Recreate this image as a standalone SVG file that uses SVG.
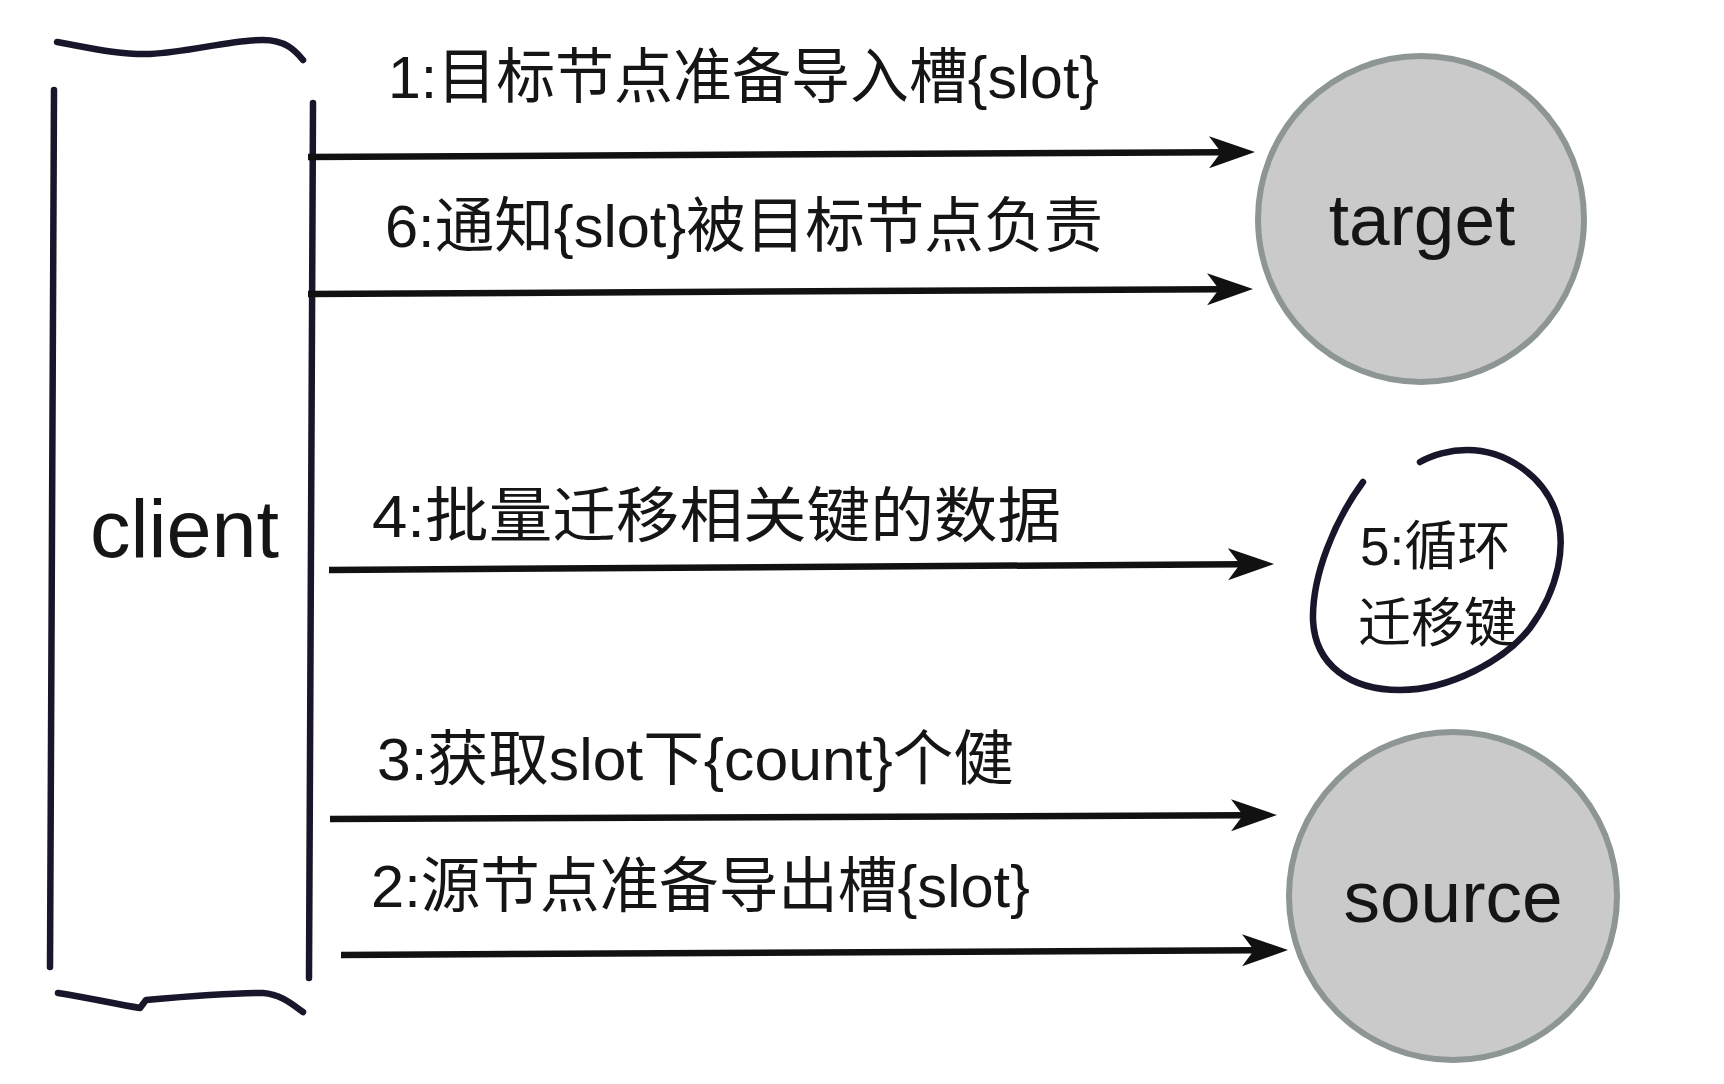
<svg xmlns="http://www.w3.org/2000/svg" width="1724" height="1084" viewBox="0 0 1724 1084">
<style>
.bg{fill:#ffffff}
.stroke{fill:none;stroke:#17162a;stroke-width:6.5;stroke-linecap:round;stroke-linejoin:round}
.conn{fill:none;stroke:#111111;stroke-width:6.5;stroke-linecap:butt}
.node{fill:#cacaca;stroke:#8d9595;stroke-width:6}
.lbl{font-family:"Liberation Sans","Noto Sans CJK SC",sans-serif;fill:#151515}
.step{font-size:60px}
.big{font-size:73px;text-anchor:middle}
.loop{font-size:53px}
</style>
<defs>
<marker id="ah" markerUnits="userSpaceOnUse" viewBox="0 0 48 36" markerWidth="48" markerHeight="36" refX="12" refY="18" orient="auto">
<path d="M46,18 L0,2 L12,18 L0,34 Z" fill="#111111"/>
</marker>
</defs>
<rect class="bg" x="0" y="0" width="1724" height="1084"/>

<g id="client">
<path class="stroke" d="M57,42 C90,48 120,55 150,54 C190,52 230,40 263,40 C285,40 295,50 303,60"/>
<path class="stroke" d="M54,90 L50,967"/>
<path class="stroke" d="M313,103 L309,978"/>
<path class="stroke" d="M58,993 C90,998 115,1004 140,1008 L146,1000 C180,997 230,993 263,993 C280,994 292,1004 303,1012"/>
<text class="lbl" x="90" y="557" font-size="81">client</text>
</g>

<g id="target">
<circle class="node" cx="1421" cy="219" r="163"/>
<text class="lbl big" x="1422" y="245">target</text>
</g>

<g id="source">
<circle class="node" cx="1453" cy="896" r="164"/>
<text class="lbl big" x="1453" y="922">source</text>
</g>

<g id="loop">
<path class="stroke" d="M1363,482 C1335,520 1312,575 1313,620 C1315,665 1350,690 1400,690 C1450,690 1505,660 1530,628 C1558,590 1568,545 1555,510 C1542,475 1505,450 1467,450 C1450,450 1432,455 1420,462"/>
<text class="lbl loop" x="1360" y="565">5:循环</text>
<text class="lbl loop" x="1358" y="642">迁移键</text>
</g>

<g id="connectors">
<path class="conn" d="M308,157 L1221,152.2" marker-end="url(#ah)"/>
<path class="conn" d="M308,294 L1219,289.2" marker-end="url(#ah)"/>
<path class="conn" d="M329,570 L1240,564.2" marker-end="url(#ah)"/>
<path class="conn" d="M330,819 L1243,815.2" marker-end="url(#ah)"/>
<path class="conn" d="M341,955 L1254,950.2" marker-end="url(#ah)"/>
</g>

<g id="labels">
<text class="lbl step" x="388" y="98" textLength="711" lengthAdjust="spacingAndGlyphs">1:目标节点准备导入槽{slot}</text>
<text class="lbl step" x="385" y="247" textLength="718" lengthAdjust="spacingAndGlyphs">6:通知{slot}被目标节点负责</text>
<text class="lbl step" x="372" y="537" textLength="689" lengthAdjust="spacingAndGlyphs">4:批量迁移相关键的数据</text>
<text class="lbl step" x="377" y="780" textLength="637" lengthAdjust="spacingAndGlyphs">3:获取slot下{count}个健</text>
<text class="lbl step" x="371" y="907" textLength="659" lengthAdjust="spacingAndGlyphs">2:源节点准备导出槽{slot}</text>
</g>
</svg>
